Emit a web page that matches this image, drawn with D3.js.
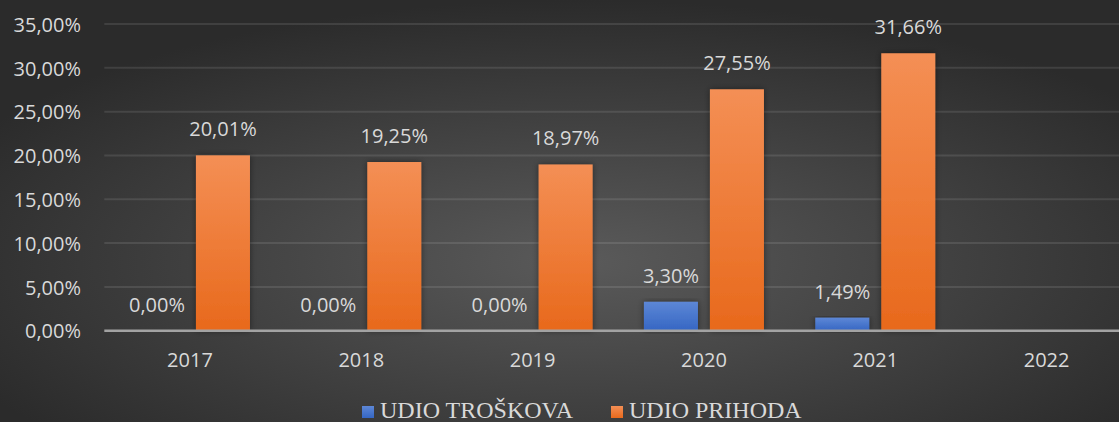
<!DOCTYPE html>
<html>
<head>
<meta charset="utf-8">
<script src="https://cdn.jsdelivr.net/npm/d3@7"></script>
<style>
  html, body { margin: 0; padding: 0; background: #333; }
  svg { display: block; }
</style>
</head>
<body>
<svg id="chart" width="1119" height="422"></svg>
<script>
const years = ["2017", "2018", "2019", "2020", "2021", "2022"];
const troskovi = [0.00, 0.00, 0.00, 3.30, 1.49, null];
const prihodi = [20.01, 19.25, 18.97, 27.55, 31.66, null];
const yTicks = [0, 5, 10, 15, 20, 25, 30, 35];
const seriesNames = ["UDIO TROŠKOVA", "UDIO PRIHODA"];

const width = 1119, height = 422;
const svg = d3.select("#chart");
const defs = svg.append("defs");

// background radial gradient
const bg = defs.append("radialGradient").attr("id", "bg")
  .attr("cx", "52%").attr("cy", "62%").attr("r", "62%");
bg.append("stop").attr("offset", "0%").attr("stop-color", "#5a5a5a");
bg.append("stop").attr("offset", "100%").attr("stop-color", "#2b2b2b");

const gBlue = defs.append("linearGradient").attr("id", "gBlue").attr("x1", 0).attr("y1", 0).attr("x2", 0).attr("y2", 1);
gBlue.append("stop").attr("offset", "0%").attr("stop-color", "#5d87d6");
gBlue.append("stop").attr("offset", "100%").attr("stop-color", "#3566c3");
const gOrange = defs.append("linearGradient").attr("id", "gOrange").attr("x1", 0).attr("y1", 0).attr("x2", 0).attr("y2", 1);
gOrange.append("stop").attr("offset", "0%").attr("stop-color", "#f48f55");
gOrange.append("stop").attr("offset", "100%").attr("stop-color", "#e8691c");

const shadow = defs.append("filter").attr("id", "shadow")
  .attr("x", "-30%").attr("y", "-10%").attr("width", "160%").attr("height", "120%");
shadow.append("feDropShadow").attr("dx", 0).attr("dy", 0).attr("stdDeviation", 3)
  .attr("flood-color", "#000").attr("flood-opacity", 0.45);

svg.append("rect").attr("width", width).attr("height", height).attr("fill", "url(#bg)");

const left = 104.3, bandW = 171.33;
const x0 = d3.scaleBand().domain(years).range([left, left + bandW * years.length]);
const x1 = d3.scaleBand().domain(seriesNames)
  .range([bandW / 2 - 60, bandW / 2 + 60]).paddingInner(12 / 66);
const y = d3.scaleLinear().domain([0, 35]).range([330.7, 24]);

const textColor = "#d9d9d9";
const sansFont = "'Open Sans', sans-serif";

// gridlines
svg.append("g").selectAll("line").data(yTicks.filter(t => t > 0)).join("line")
  .attr("x1", left).attr("x2", width)
  .attr("y1", d => y(d)).attr("y2", d => y(d))
  .attr("stroke", "#ffffff").attr("stroke-opacity", 0.1).attr("stroke-width", 2);

// y axis labels
const yAxis = d3.axisLeft(y).tickValues(yTicks).tickSize(0).tickPadding(0)
  .tickFormat(d => d3.format(".2f")(d).replace(".", ",") + "%");
const yG = svg.append("g").attr("transform", "translate(81,0)").call(yAxis);
yG.select(".domain").remove();
yG.selectAll("text").attr("fill", textColor).attr("font-family", sansFont)
  .attr("font-size", 20).attr("dy", "0.36em");

// bars
const fmt = v => d3.format(".2f")(v).replace(".", ",") + "%";
const groups = svg.append("g").selectAll("g").data(years).join("g")
  .attr("transform", d => `translate(${x0(d)},0)`);

const rows = years.map((yr, i) => [
  { key: seriesNames[0], v: troskovi[i], fill: "url(#gBlue)" },
  { key: seriesNames[1], v: prihodi[i], fill: "url(#gOrange)" }
].filter(r => r.v != null));

groups.each(function (yr, i) {
  const g = d3.select(this);
  g.selectAll("rect").data(rows[i]).join("rect")
    .attr("x", d => x1(d.key)).attr("width", x1.bandwidth())
    .attr("y", d => y(d.v)).attr("height", d => y(0) - y(d.v))
    .attr("fill", d => d.fill)
    .attr("filter", d => d.v > 0 ? "url(#shadow)" : null);
  g.selectAll("text").data(rows[i]).join("text")
    .attr("x", d => x1(d.key) + x1.bandwidth() / 2)
    .attr("y", d => y(d.v) - 19)
    .attr("text-anchor", "middle")
    .attr("fill", textColor).attr("font-family", sansFont).attr("font-size", 20)
    .text(d => fmt(d.v));
});

// baseline axis
const xAxis = d3.axisBottom(x0).tickSize(0).tickPadding(0);
const xG = svg.append("g").attr("transform", `translate(0,${y(0)})`).call(xAxis);
xG.select(".domain").attr("d", `M${left},0H${width}`).attr("stroke", "#a3a3a3").attr("stroke-width", 2.5);
xG.selectAll("text").attr("fill", textColor).attr("font-family", sansFont)
  .attr("font-size", 20).attr("dy", null).attr("y", 36);

// legend
const legendItems = [
  { name: seriesNames[0], fill: "url(#gBlue)", x: 362 },
  { name: seriesNames[1], fill: "url(#gOrange)", x: 611 }
];
const lg = svg.append("g").selectAll("g").data(legendItems).join("g")
  .attr("transform", d => `translate(${d.x},0)`);
lg.append("rect").attr("x", 0).attr("y", 406).attr("width", 12).attr("height", 12)
  .attr("fill", d => d.fill);
lg.append("text").attr("x", 18).attr("y", 418)
  .attr("fill", textColor).attr("font-family", "'Liberation Serif', 'Times New Roman', serif")
  .attr("font-size", 24).text(d => d.name);
</script>
</body>
</html>
